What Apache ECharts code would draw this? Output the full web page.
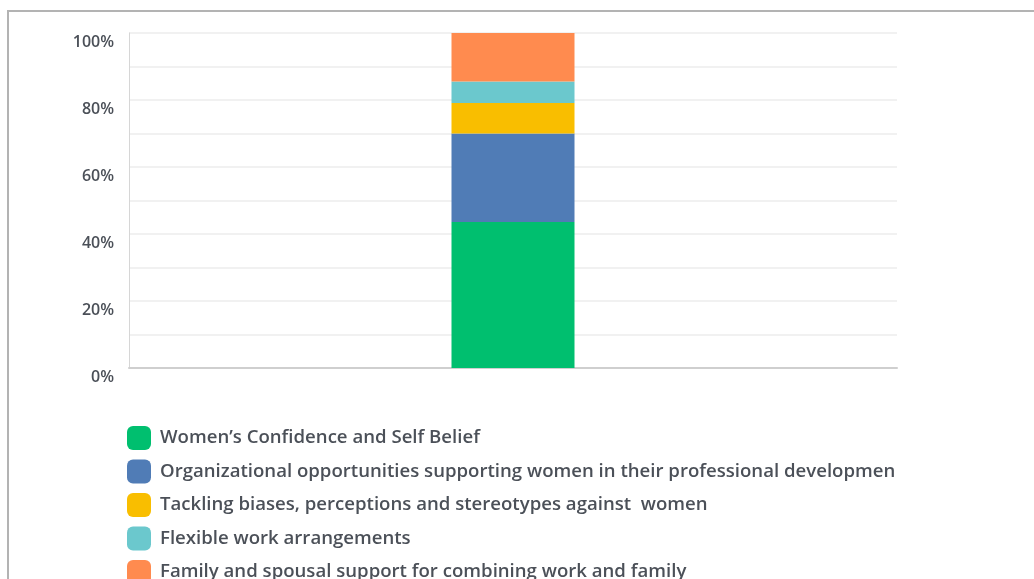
<!DOCTYPE html>
<html>
<head>
<meta charset="utf-8">
<script src="https://cdn.jsdelivr.net/npm/echarts@6/dist/echarts.min.js"></script>
<style>
  html, body { margin: 0; padding: 0; background: #fff; overflow: hidden; }
  #chart { position: absolute; left: 0; top: 0; width: 1034px; height: 579px; }
  #frame { position: absolute; left: 7px; top: 10px; width: 1200px; height: 800px;
           border: 2px solid #b3b3b3; pointer-events: none; }
</style>
</head>
<body>
<div id="chart"></div>
<div id="frame"></div>
<script>
// Share of responses per answer option (percent, stacked to 100)
const categories = [''];
const seriesNames = [
  'Women\u2019s Confidence and Self Belief',
  'Organizational opportunities supporting women in their professional development',
  'Tackling biases, perceptions and stereotypes against  women',
  'Flexible work arrangements',
  'Family and spousal support for combining work and family'
];
const confidence = [43.6];
const orgOpportunities = [26.4];
const tacklingBiases = [9.1];
const flexibleWork = [6.4];
const familySupport = [14.5];
const yTicks = [0, 20, 40, 60, 80, 100];

const seriesValues = [confidence, orgOpportunities, tacklingBiases, flexibleWork, familySupport];
const colors = ['#00BF6F', '#507CB6', '#F9BE00', '#6BC8CD', '#FF8B4F'];

const chart = echarts.init(document.getElementById('chart'), null, { renderer: 'canvas' });

chart.setOption({
  animation: false,
  color: colors,
  grid: { left: 129, right: 137, top: 33, bottom: 211, containLabel: false },
  legend: {
    orient: 'vertical',
    left: 122,
    top: 421,
    height: 400,
    itemWidth: 24,
    itemHeight: 24,
    itemGap: 9.5,
    icon: 'roundRect',
    selectedMode: false,
    data: seriesNames,
    textStyle: {
      fontFamily: 'Open Sans',
      fontSize: 18.6,
      fontWeight: 600,
      color: '#4b5058',
      width: 738,
      overflow: 'truncate',
      ellipsis: '',
      padding: [0, 0, 0, 4]
    }
  },
  xAxis: {
    type: 'category',
    data: categories,
    axisTick: { show: false },
    axisLabel: { show: false },
    axisLine: { lineStyle: { color: '#cfcfcf', width: 2 } }
  },
  yAxis: {
    type: 'value',
    min: 0,
    max: 100,
    interval: 10,
    axisLine: { show: true, lineStyle: { color: '#d6d6d6', width: 1 } },
    axisTick: { show: false },
    splitLine: { lineStyle: { color: '#ececec', width: 1.5 } },
    axisLabel: {
      margin: 15,
      verticalAlign: 'top',
      padding: [1, 0, 0, 0],
      fontFamily: 'Open Sans',
      fontSize: 16,
      fontWeight: 600,
      color: '#4b5058',
      formatter: v => (yTicks.indexOf(v) >= 0 ? v + '%' : '')
    }
  },
  series: seriesNames.map((name, i) => ({
    name: name,
    type: 'bar',
    stack: 'total',
    barWidth: 123,
    data: seriesValues[i],
    itemStyle: { color: colors[i] }
  }))
});
</script>
</body>
</html>
